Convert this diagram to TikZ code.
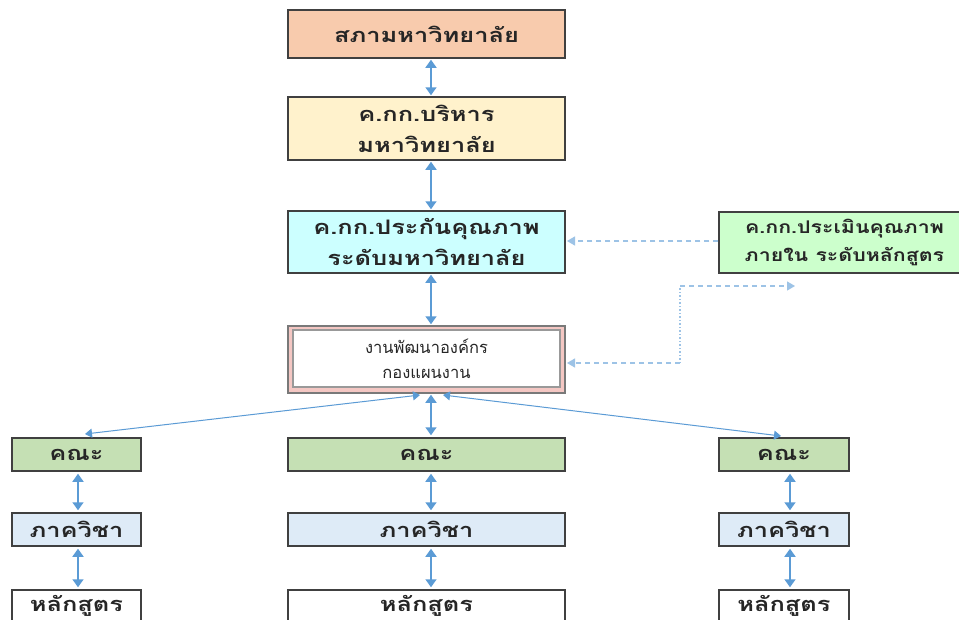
\documentclass[tikz,border=0pt]{standalone}
\usepackage{fontspec}
\newfontfamily\thaifont[Script=Thai]{Loma}
\newfontfamily\thaiwide[Script=Thai,FakeStretch=1.27]{Loma}
\newfontfamily\thaimid[Script=Thai,FakeStretch=1.22]{Loma}
\usetikzlibrary{arrows.meta,calc}
\definecolor{cSapha}{HTML}{F8CBAD}
\definecolor{cBoard}{HTML}{FFF2CC}
\definecolor{cQA}{HTML}{CCFFFF}
\definecolor{cPink}{HTML}{F4C7C3}
\definecolor{cEval}{HTML}{CCFFCC}
\definecolor{cFac}{HTML}{C5E0B4}
\definecolor{cDept}{HTML}{DEEBF7}
\definecolor{cArrow}{HTML}{5B9BD5}
\definecolor{cDash}{HTML}{9DC3E6}
\definecolor{cBorder}{HTML}{404040}
\definecolor{cText}{HTML}{262626}
\tikzset{
  box/.style={draw=cBorder, line width=1.5pt, rectangle, inner sep=0pt, align=center,
    text=cText, font=\thaiwide\bfseries\fontsize{20}{31}\selectfont},
  evalbox/.style={box, font=\thaimid\bfseries\fontsize{17.5}{28}\selectfont},
  plainbox/.style={rectangle, inner sep=0pt, align=center,
    text=cText, font=\thaifont\fontsize{16.5}{25}\selectfont},
  link/.style={draw=cArrow, line width=1.6pt, {Triangle[width=11pt,length=8pt]}-{Triangle[width=11pt,length=8pt]}},
  thinlink/.style={draw=cArrow, line width=1pt, {Triangle[width=9pt,length=7pt]}-{Triangle[width=9pt,length=7pt]}},
  dlink/.style={draw=cDash, line width=1.2pt, dash pattern=on 5pt off 4pt},
  tip/.style={-{Triangle[width=9pt,length=8pt]}},
}
\begin{document}
\begin{tikzpicture}[x=1pt,y=-1pt]
\useasboundingbox (0,0) rectangle (959,619);
\clip (0,0) rectangle (959,619);
\fill[white] (0,0) rectangle (959,619);

% top column
\node[box, fill=cSapha, minimum width=277pt, minimum height=48pt] (b1) at (426.5,34) {สภามหาวิทยาลัย};
\node[box, fill=cBoard, minimum width=277pt, minimum height=63pt] (b2) at (426.5,128.5) {ค.กก.บริหาร\\มหาวิทยาลัย};
\node[box, fill=cQA, minimum width=277pt, minimum height=62pt] (b3) at (426.5,242) {ค.กก.ประกันคุณภาพ\\ระดับมหาวิทยาลัย};
\node[draw=cBorder!70, line width=1.5pt, fill=cPink, rectangle, minimum width=277pt, minimum height=67pt] (b4) at (426.5,359.5) {};
\node[draw=gray!80, line width=2pt, fill=white, rectangle, minimum width=267pt, minimum height=57pt] (b4in) at (426.5,358.5) {};
\node[plainbox] (b4t) at (426.5,359) {งานพัฒนาองค์กร\\กองแผนงาน};
\node[evalbox, fill=cEval, minimum width=251pt, minimum height=61pt] (b5) at (844.5,242.5) {ค.กก.ประเมินคุณภาพ\\ภายใน ระดับหลักสูตร};

% faculty row
\node[box, fill=cFac, minimum width=129pt, minimum height=33pt] (f1) at (76.5,454.5) {คณะ};
\node[box, fill=cFac, minimum width=277pt, minimum height=33pt] (f2) at (426.5,454.5) {คณะ};
\node[box, fill=cFac, minimum width=130pt, minimum height=33pt] (f3) at (784,454.5) {คณะ};
% department row
\node[box, fill=cDept, minimum width=129pt, minimum height=33pt] (d1) at (76.5,529.5) {ภาควิชา};
\node[box, fill=cDept, minimum width=277pt, minimum height=33pt] (d2) at (426.5,529.5) {ภาควิชา};
\node[box, fill=cDept, minimum width=130pt, minimum height=33pt] (d3) at (784,529.5) {ภาควิชา};
% curriculum row
\node[box, fill=white, minimum width=129pt, minimum height=50pt] (c1) at (76.5,615) {};
\node[box, fill=white, minimum width=277pt, minimum height=50pt] (c2) at (426.5,615) {};
\node[box, fill=white, minimum width=130pt, minimum height=50pt] (c3) at (784,615) {};
\node[box, draw=none] (c1t) at (76.5,606) {หลักสูตร};
\node[box, draw=none] (c2t) at (426.5,606) {หลักสูตร};
\node[box, draw=none] (c3t) at (784,606) {หลักสูตร};

% vertical links
\coordinate (xm) at (431,0);
\coordinate (xl) at (78,0);
\coordinate (xr) at (790,0);
\draw[link, shorten <=1pt, shorten >=1pt] (b1.south -| xm) -- (b2.north -| xm);
\draw[link, shorten <=1pt, shorten >=1pt] (b2.south -| xm) -- (b3.north -| xm);
\draw[link, shorten <=1pt, shorten >=1pt] (b3.south -| xm) -- (b4.north -| xm);
\draw[link, shorten <=1pt, shorten >=2pt] (b4.south -| xm) -- (f2.north -| xm);
\draw[link, shorten <=2pt, shorten >=2pt] (f1.south -| xl) -- (d1.north -| xl);
\draw[link, shorten <=2pt, shorten >=2pt] (f2.south -| xm) -- (d2.north -| xm);
\draw[link, shorten <=2pt, shorten >=2pt] (f3.south -| xr) -- (d3.north -| xr);
\draw[link, shorten <=2pt, shorten >=2pt] (d1.south -| xl) -- (c1.north -| xl);
\draw[link, shorten <=2pt, shorten >=2pt] (d2.south -| xm) -- (c2.north -| xm);
\draw[link, shorten <=2pt, shorten >=2pt] (d3.south -| xr) -- (c3.north -| xr);

% diagonal links
\coordinate (sl) at (420,395);
\coordinate (sr) at (443,395);
\coordinate (el) at (85,434);
\coordinate (er) at (781,436);
\draw[thinlink] (sl) -- (el);
\draw[thinlink] (sr) -- (er);

% dashed links from evaluation committee
\coordinate (tq) at (567,241);
\draw[dlink, tip] (b5.west |- tq) -- (tq);
\coordinate (tk) at (567,363);
\coordinate (k1) at (680,363);
\coordinate (k2) at (680,286);
\coordinate (k3) at (795,286);
\draw[dlink, tip] (k1) -- (tk);
\draw[draw=cDash, line width=1.4pt, dash pattern=on 1.5pt off 2pt] (k1) -- (k2);
\draw[dlink, tip] (k2) -- (k3);
\end{tikzpicture}
\end{document}
